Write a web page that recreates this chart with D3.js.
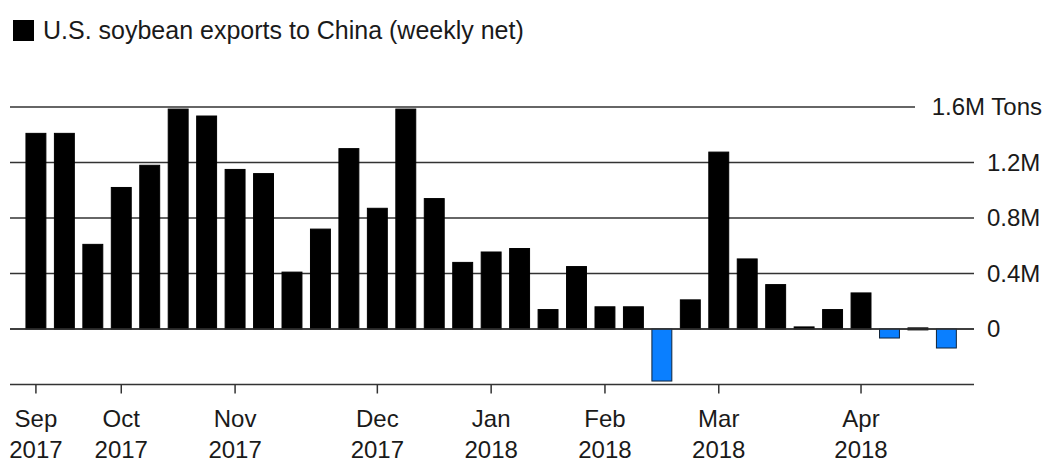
<!DOCTYPE html>
<html>
<head>
<meta charset="utf-8">
<script src="https://cdn.jsdelivr.net/npm/d3@7"></script>
<style>
  html, body { margin: 0; padding: 0; background: #fff; }
  svg { display: block; font-family: "Liberation Sans", Arial, Helvetica, sans-serif; }
</style>
</head>
<body>
<svg id="chart" width="1048" height="463"></svg>
<script>
// Week-ending dates (weekly net sales)
const weeks = [
  "2017-09-14","2017-09-21","2017-09-28",
  "2017-10-05","2017-10-12","2017-10-19","2017-10-26",
  "2017-11-02","2017-11-09","2017-11-16","2017-11-23","2017-11-30",
  "2017-12-07","2017-12-14","2017-12-21","2017-12-28",
  "2018-01-04","2018-01-11","2018-01-18","2018-01-25",
  "2018-02-01","2018-02-08","2018-02-15","2018-02-22",
  "2018-03-01","2018-03-08","2018-03-15","2018-03-22","2018-03-29",
  "2018-04-05","2018-04-12","2018-04-19","2018-04-26"
];
// Net exports, million tons
const exportsM = [
  1.41, 1.41, 0.61,
  1.02, 1.18, 1.585, 1.535,
  1.15, 1.12, 0.41, 0.72, 1.30,
  0.87, 1.585, 0.94, 0.48,
  0.555, 0.58, 0.14, 0.45,
  0.16, 0.16, -0.375, 0.21,
  1.275, 0.505, 0.32, 0.015, 0.14,
  0.26, -0.065, 0.008, -0.137
];
// Month ticks: week at which label sits, month text, year text
const tickWeeks  = ["2017-09-14","2017-10-05","2017-11-02","2017-12-07","2018-01-04","2018-02-01","2018-03-01","2018-04-05"];
const tickMonths = ["Sep","Oct","Nov","Dec","Jan","Feb","Mar","Apr"];
const tickYears  = ["2017","2017","2017","2017","2018","2018","2018","2018"];
const yTicks      = [0, 0.4, 0.8, 1.2, 1.6];
const yTickLabels = ["0", "0.4M", "0.8M", "1.2M", "1.6M Tons"];
const legendLabel = "U.S. soybean exports to China (weekly net)";

const svg = d3.select("#chart");
const textColor = "#1a1a1a";
const lineColor = "#333";
const fs = 24;

const x = d3.scaleBand()
  .domain(weeks)
  .range([16, 966.3])
  .paddingInner(0.3)
  .paddingOuter(0.35);

const y = d3.scaleLinear()
  .domain([-0.4, 1.6])
  .range([384.5, 107]);

// Legend
svg.append("rect").attr("x", 13).attr("y", 20).attr("width", 21).attr("height", 21).attr("fill", "#000");
svg.append("text").attr("x", 43).attr("y", 39).attr("font-size", 25).attr("fill", textColor).text(legendLabel);

// Gridlines + right labels
const gridG = svg.append("g");
yTicks.forEach((t, i) => {
  const isTop = i === yTicks.length - 1;
  gridG.append("line")
    .attr("x1", 10).attr("x2", isTop ? 915 : 974)
    .attr("y1", y(t)).attr("y2", y(t))
    .attr("stroke", lineColor).attr("stroke-width", 1.5);
  gridG.append("text")
    .attr("x", isTop ? 1042 : 987)
    .attr("y", y(t))
    .attr("dy", "0.35em")
    .attr("text-anchor", isTop ? "end" : "start")
    .attr("font-size", fs)
    .attr("fill", textColor)
    .text(yTickLabels[i]);
});

// Bars
svg.append("g").selectAll("rect")
  .data(weeks.map((w, i) => ({ w, v: exportsM[i] })))
  .join("rect")
  .attr("x", d => x(d.w))
  .attr("width", x.bandwidth())
  .attr("y", d => y(Math.max(0, d.v)))
  .attr("height", d => Math.max(2, Math.abs(y(d.v) - y(0))))
  .attr("fill", d => d.v < 0 ? "#0a7fff" : "#000")
  .attr("stroke", d => d.v < 0 ? "#10243a" : "#000")
  .attr("stroke-width", 1);

// Redraw zero line on top
svg.append("line")
  .attr("x1", 10).attr("x2", 974)
  .attr("y1", y(0)).attr("y2", y(0))
  .attr("stroke", lineColor).attr("stroke-width", 1.5);

// Bottom axis
const axisY = y(-0.4);
svg.append("line")
  .attr("x1", 10).attr("x2", 974)
  .attr("y1", axisY).attr("y2", axisY)
  .attr("stroke", lineColor).attr("stroke-width", 1.5);

const ticksG = svg.append("g");
tickWeeks.forEach((w, i) => {
  const cx = x(w) + x.bandwidth() / 2;
  ticksG.append("line")
    .attr("x1", cx).attr("x2", cx)
    .attr("y1", axisY).attr("y2", axisY + 9)
    .attr("stroke", lineColor).attr("stroke-width", 1.5);
  ticksG.append("text")
    .attr("x", cx).attr("y", 427)
    .attr("text-anchor", "middle").attr("font-size", fs).attr("fill", textColor)
    .text(tickMonths[i]);
  ticksG.append("text")
    .attr("x", cx).attr("y", 458)
    .attr("text-anchor", "middle").attr("font-size", fs).attr("fill", textColor)
    .text(tickYears[i]);
});
</script>
</body>
</html>
